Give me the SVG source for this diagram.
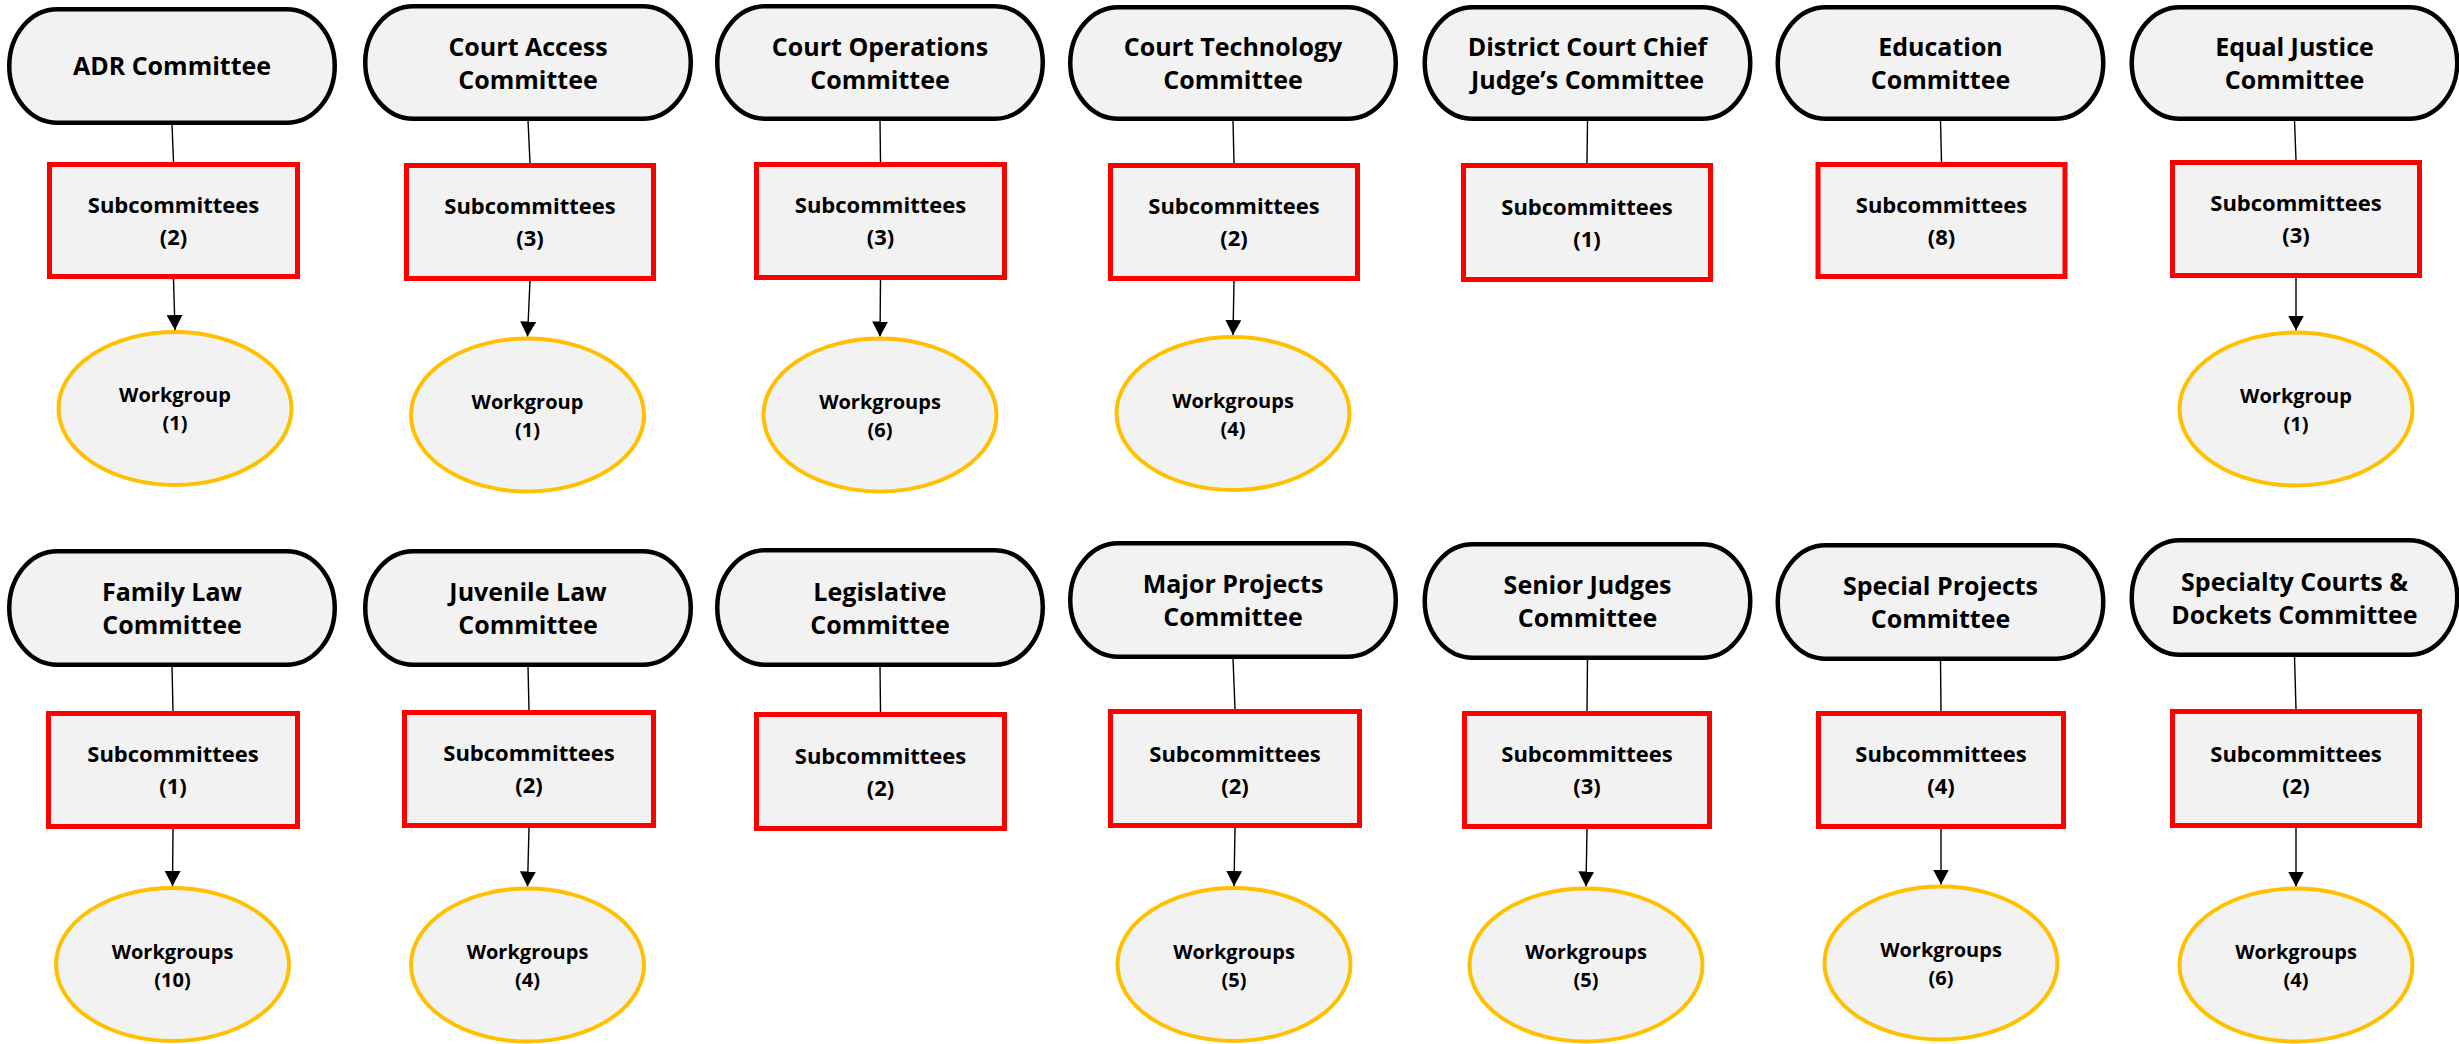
<svg xmlns="http://www.w3.org/2000/svg" width="2459" height="1044" viewBox="0 0 2459 1044">
<defs>
<style>
.pill{fill:#F2F2F2;stroke:#000;stroke-width:4.5}
.box{fill:#F2F2F2;stroke:#FF0000;stroke-width:5}
.wg{fill:#F2F2F2;stroke:#FFC000;stroke-width:4}
.t{font-family:"Open Sans","Liberation Sans",sans-serif;font-weight:700;fill:#000;text-anchor:middle}
.tp{font-size:25px}
.tb{font-size:22px}
.te{font-size:20px}
.ln{stroke:#000;stroke-width:1.4;fill:none}
.ar{stroke:#000;stroke-width:1.4;fill:none;marker-end:url(#ah)}
</style>
<marker id="ah" markerUnits="userSpaceOnUse" markerWidth="16" markerHeight="16" viewBox="0 0 16 16" refX="15" refY="8" orient="auto">
<path d="M0,0 L15,8 L0,16 Z" fill="#000"/>
</marker>
</defs>
<rect width="2459" height="1044" fill="#FFFFFF"/>

<g id="connectors">
<!-- row 1 -->
<line class="ln" x1="172" y1="124" x2="173.5" y2="162"/>
<line class="ar" x1="173.5" y1="279" x2="175" y2="330"/>
<line class="ln" x1="528" y1="120" x2="530" y2="163"/>
<line class="ar" x1="530" y1="281" x2="527.5" y2="336.5"/>
<line class="ln" x1="880" y1="120" x2="880.5" y2="162"/>
<line class="ar" x1="880.5" y1="280" x2="880" y2="336.5"/>
<line class="ln" x1="1233" y1="120" x2="1234" y2="163"/>
<line class="ar" x1="1234" y1="281" x2="1233" y2="335"/>
<line class="ln" x1="1587.5" y1="120" x2="1587" y2="163"/>
<line class="ln" x1="1940.5" y1="120" x2="1941.5" y2="162"/>
<line class="ln" x1="2294.5" y1="120" x2="2296" y2="160"/>
<line class="ar" x1="2296" y1="278" x2="2296" y2="330.5"/>
<!-- row 2 -->
<line class="ln" x1="172" y1="666" x2="173" y2="711"/>
<line class="ar" x1="173" y1="829" x2="172.5" y2="886"/>
<line class="ln" x1="528" y1="666" x2="529" y2="710"/>
<line class="ar" x1="529" y1="828" x2="527.5" y2="886.5"/>
<line class="ln" x1="880" y1="666" x2="880.5" y2="712"/>
<line class="ln" x1="1233" y1="658" x2="1235" y2="709"/>
<line class="ar" x1="1235" y1="828" x2="1234" y2="886"/>
<line class="ln" x1="1587.5" y1="659" x2="1587" y2="711"/>
<line class="ar" x1="1587" y1="829" x2="1586" y2="886.5"/>
<line class="ln" x1="1940.5" y1="660" x2="1941" y2="711"/>
<line class="ar" x1="1941" y1="829" x2="1941" y2="884.5"/>
<line class="ln" x1="2294.5" y1="656" x2="2296" y2="709"/>
<line class="ar" x1="2296" y1="828" x2="2296" y2="886.5"/>
</g>

<!-- ===== Row 1 ===== -->
<g id="adr">
<rect class="pill" x="9.25" y="9.25" width="325.5" height="113.5" rx="48" ry="56.75"/>
<text class="t tp" x="172" y="75">ADR Committee</text>
</g>
<g id="adr-sub">
<rect class="box" x="49.5" y="164.5" width="248" height="112"/>
<text class="t tb" x="173.5" y="213">Subcommittees</text>
<text class="t tb" x="173.5" y="245">(2)</text>
</g>
<g id="adr-wg">
<ellipse class="wg" cx="175" cy="408.5" rx="116.5" ry="76.5"/>
<text class="t te" x="175" y="402">Workgroup</text>
<text class="t te" x="175" y="430">(1)</text>
</g>

<g id="court-access">
<rect class="pill" x="365.25" y="6.25" width="325.5" height="112.5" rx="48" ry="56.25"/>
<text class="t tp" x="528" y="55.5">Court Access</text>
<text class="t tp" x="528" y="88.5">Committee</text>
</g>
<g id="court-access-sub">
<rect class="box" x="406.5" y="165.5" width="247" height="113"/>
<text class="t tb" x="530" y="214">Subcommittees</text>
<text class="t tb" x="530" y="246">(3)</text>
</g>
<g id="court-access-wg">
<ellipse class="wg" cx="527.5" cy="415" rx="116.5" ry="76.5"/>
<text class="t te" x="527.5" y="409">Workgroup</text>
<text class="t te" x="527.5" y="437">(1)</text>
</g>

<g id="court-operations">
<rect class="pill" x="717.25" y="6.25" width="325.5" height="112.5" rx="48" ry="56.25"/>
<text class="t tp" x="880" y="55.5">Court Operations</text>
<text class="t tp" x="880" y="88.5">Committee</text>
</g>
<g id="court-operations-sub">
<rect class="box" x="756.5" y="164.5" width="248" height="113"/>
<text class="t tb" x="880.5" y="213">Subcommittees</text>
<text class="t tb" x="880.5" y="245">(3)</text>
</g>
<g id="court-operations-wg">
<ellipse class="wg" cx="880" cy="415" rx="116.5" ry="76.5"/>
<text class="t te" x="880" y="409">Workgroups</text>
<text class="t te" x="880" y="437">(6)</text>
</g>

<g id="court-technology">
<rect class="pill" x="1070.25" y="7.25" width="325.5" height="111.5" rx="48" ry="55.75"/>
<text class="t tp" x="1233" y="56">Court Technology</text>
<text class="t tp" x="1233" y="89">Committee</text>
</g>
<g id="court-technology-sub">
<rect class="box" x="1110.5" y="165.5" width="247" height="113"/>
<text class="t tb" x="1234" y="214">Subcommittees</text>
<text class="t tb" x="1234" y="246">(2)</text>
</g>
<g id="court-technology-wg">
<ellipse class="wg" cx="1233" cy="413.5" rx="116.5" ry="76.5"/>
<text class="t te" x="1233" y="407.5">Workgroups</text>
<text class="t te" x="1233" y="435.5">(4)</text>
</g>

<g id="district-court">
<rect class="pill" x="1424.75" y="7.25" width="325.5" height="111.5" rx="48" ry="55.75"/>
<text class="t tp" x="1587.5" y="56">District Court Chief</text>
<text class="t tp" x="1587.5" y="89">Judge’s Committee</text>
</g>
<g id="district-court-sub">
<rect class="box" x="1463.5" y="165.5" width="247" height="114"/>
<text class="t tb" x="1587" y="214.5">Subcommittees</text>
<text class="t tb" x="1587" y="246.5">(1)</text>
</g>

<g id="education">
<rect class="pill" x="1777.75" y="7.25" width="325.5" height="111.5" rx="48" ry="55.75"/>
<text class="t tp" x="1940.5" y="56">Education</text>
<text class="t tp" x="1940.5" y="89">Committee</text>
</g>
<g id="education-sub">
<rect class="box" x="1818" y="164.5" width="247" height="112"/>
<text class="t tb" x="1941.5" y="213">Subcommittees</text>
<text class="t tb" x="1941.5" y="245">(8)</text>
</g>

<g id="equal-justice">
<rect class="pill" x="2131.75" y="7.25" width="325.5" height="111.5" rx="48" ry="55.75"/>
<text class="t tp" x="2294.5" y="56">Equal Justice</text>
<text class="t tp" x="2294.5" y="89">Committee</text>
</g>
<g id="equal-justice-sub">
<rect class="box" x="2172.5" y="162.5" width="247" height="113"/>
<text class="t tb" x="2296" y="211">Subcommittees</text>
<text class="t tb" x="2296" y="243">(3)</text>
</g>
<g id="equal-justice-wg">
<ellipse class="wg" cx="2296" cy="409" rx="116.5" ry="76.5"/>
<text class="t te" x="2296" y="403">Workgroup</text>
<text class="t te" x="2296" y="431">(1)</text>
</g>

<!-- ===== Row 2 ===== -->
<g id="family-law">
<rect class="pill" x="9.25" y="551.25" width="325.5" height="113.5" rx="48" ry="56.75"/>
<text class="t tp" x="172" y="601">Family Law</text>
<text class="t tp" x="172" y="634">Committee</text>
</g>
<g id="family-law-sub">
<rect class="box" x="48.5" y="713.5" width="249" height="113"/>
<text class="t tb" x="173" y="762">Subcommittees</text>
<text class="t tb" x="173" y="794">(1)</text>
</g>
<g id="family-law-wg">
<ellipse class="wg" cx="172.5" cy="964.5" rx="116.5" ry="76.5"/>
<text class="t te" x="172.5" y="958.5">Workgroups</text>
<text class="t te" x="172.5" y="986.5">(10)</text>
</g>

<g id="juvenile-law">
<rect class="pill" x="365.25" y="551.25" width="325.5" height="113.5" rx="48" ry="56.75"/>
<text class="t tp" x="528" y="601">Juvenile Law</text>
<text class="t tp" x="528" y="634">Committee</text>
</g>
<g id="juvenile-law-sub">
<rect class="box" x="404.5" y="712.5" width="249" height="113"/>
<text class="t tb" x="529" y="761">Subcommittees</text>
<text class="t tb" x="529" y="793">(2)</text>
</g>
<g id="juvenile-law-wg">
<ellipse class="wg" cx="527.5" cy="965" rx="116.5" ry="76.5"/>
<text class="t te" x="527.5" y="959">Workgroups</text>
<text class="t te" x="527.5" y="987">(4)</text>
</g>

<g id="legislative">
<rect class="pill" x="717.25" y="550.25" width="325.5" height="114.5" rx="48" ry="57.25"/>
<text class="t tp" x="880" y="600.5">Legislative</text>
<text class="t tp" x="880" y="633.5">Committee</text>
</g>
<g id="legislative-sub">
<rect class="box" x="756.5" y="714.5" width="248" height="114"/>
<text class="t tb" x="880.5" y="763.5">Subcommittees</text>
<text class="t tb" x="880.5" y="795.5">(2)</text>
</g>

<g id="major-projects">
<rect class="pill" x="1070.25" y="543.25" width="325.5" height="113.5" rx="48" ry="56.75"/>
<text class="t tp" x="1233" y="593">Major Projects</text>
<text class="t tp" x="1233" y="626">Committee</text>
</g>
<g id="major-projects-sub">
<rect class="box" x="1110.5" y="711.5" width="249" height="114"/>
<text class="t tb" x="1235" y="762">Subcommittees</text>
<text class="t tb" x="1235" y="794">(2)</text>
</g>
<g id="major-projects-wg">
<ellipse class="wg" cx="1234" cy="964.5" rx="116.5" ry="76.5"/>
<text class="t te" x="1234" y="958.5">Workgroups</text>
<text class="t te" x="1234" y="986.5">(5)</text>
</g>

<g id="senior-judges">
<rect class="pill" x="1424.75" y="544.25" width="325.5" height="113.5" rx="48" ry="56.75"/>
<text class="t tp" x="1587.5" y="594">Senior Judges</text>
<text class="t tp" x="1587.5" y="627">Committee</text>
</g>
<g id="senior-judges-sub">
<rect class="box" x="1464.5" y="713.5" width="245" height="113"/>
<text class="t tb" x="1587" y="762">Subcommittees</text>
<text class="t tb" x="1587" y="794">(3)</text>
</g>
<g id="senior-judges-wg">
<ellipse class="wg" cx="1586" cy="965" rx="116.5" ry="76.5"/>
<text class="t te" x="1586" y="959">Workgroups</text>
<text class="t te" x="1586" y="987">(5)</text>
</g>

<g id="special-projects">
<rect class="pill" x="1777.75" y="545.25" width="325.5" height="113.5" rx="48" ry="56.75"/>
<text class="t tp" x="1940.5" y="595">Special Projects</text>
<text class="t tp" x="1940.5" y="628">Committee</text>
</g>
<g id="special-projects-sub">
<rect class="box" x="1818.5" y="713.5" width="245" height="113"/>
<text class="t tb" x="1941" y="762">Subcommittees</text>
<text class="t tb" x="1941" y="794">(4)</text>
</g>
<g id="special-projects-wg">
<ellipse class="wg" cx="1941" cy="963" rx="116.5" ry="76.5"/>
<text class="t te" x="1941" y="957">Workgroups</text>
<text class="t te" x="1941" y="985">(6)</text>
</g>

<g id="specialty-courts">
<rect class="pill" x="2131.75" y="540.25" width="325.5" height="114.5" rx="48" ry="57.25"/>
<text class="t tp" x="2294.5" y="590.5">Specialty Courts &amp;</text>
<text class="t tp" x="2294.5" y="623.5">Dockets Committee</text>
</g>
<g id="specialty-courts-sub">
<rect class="box" x="2172.5" y="711.5" width="247" height="114"/>
<text class="t tb" x="2296" y="762">Subcommittees</text>
<text class="t tb" x="2296" y="794">(2)</text>
</g>
<g id="specialty-courts-wg">
<ellipse class="wg" cx="2296" cy="965" rx="116.5" ry="76.5"/>
<text class="t te" x="2296" y="959">Workgroups</text>
<text class="t te" x="2296" y="987">(4)</text>
</g>
</svg>
